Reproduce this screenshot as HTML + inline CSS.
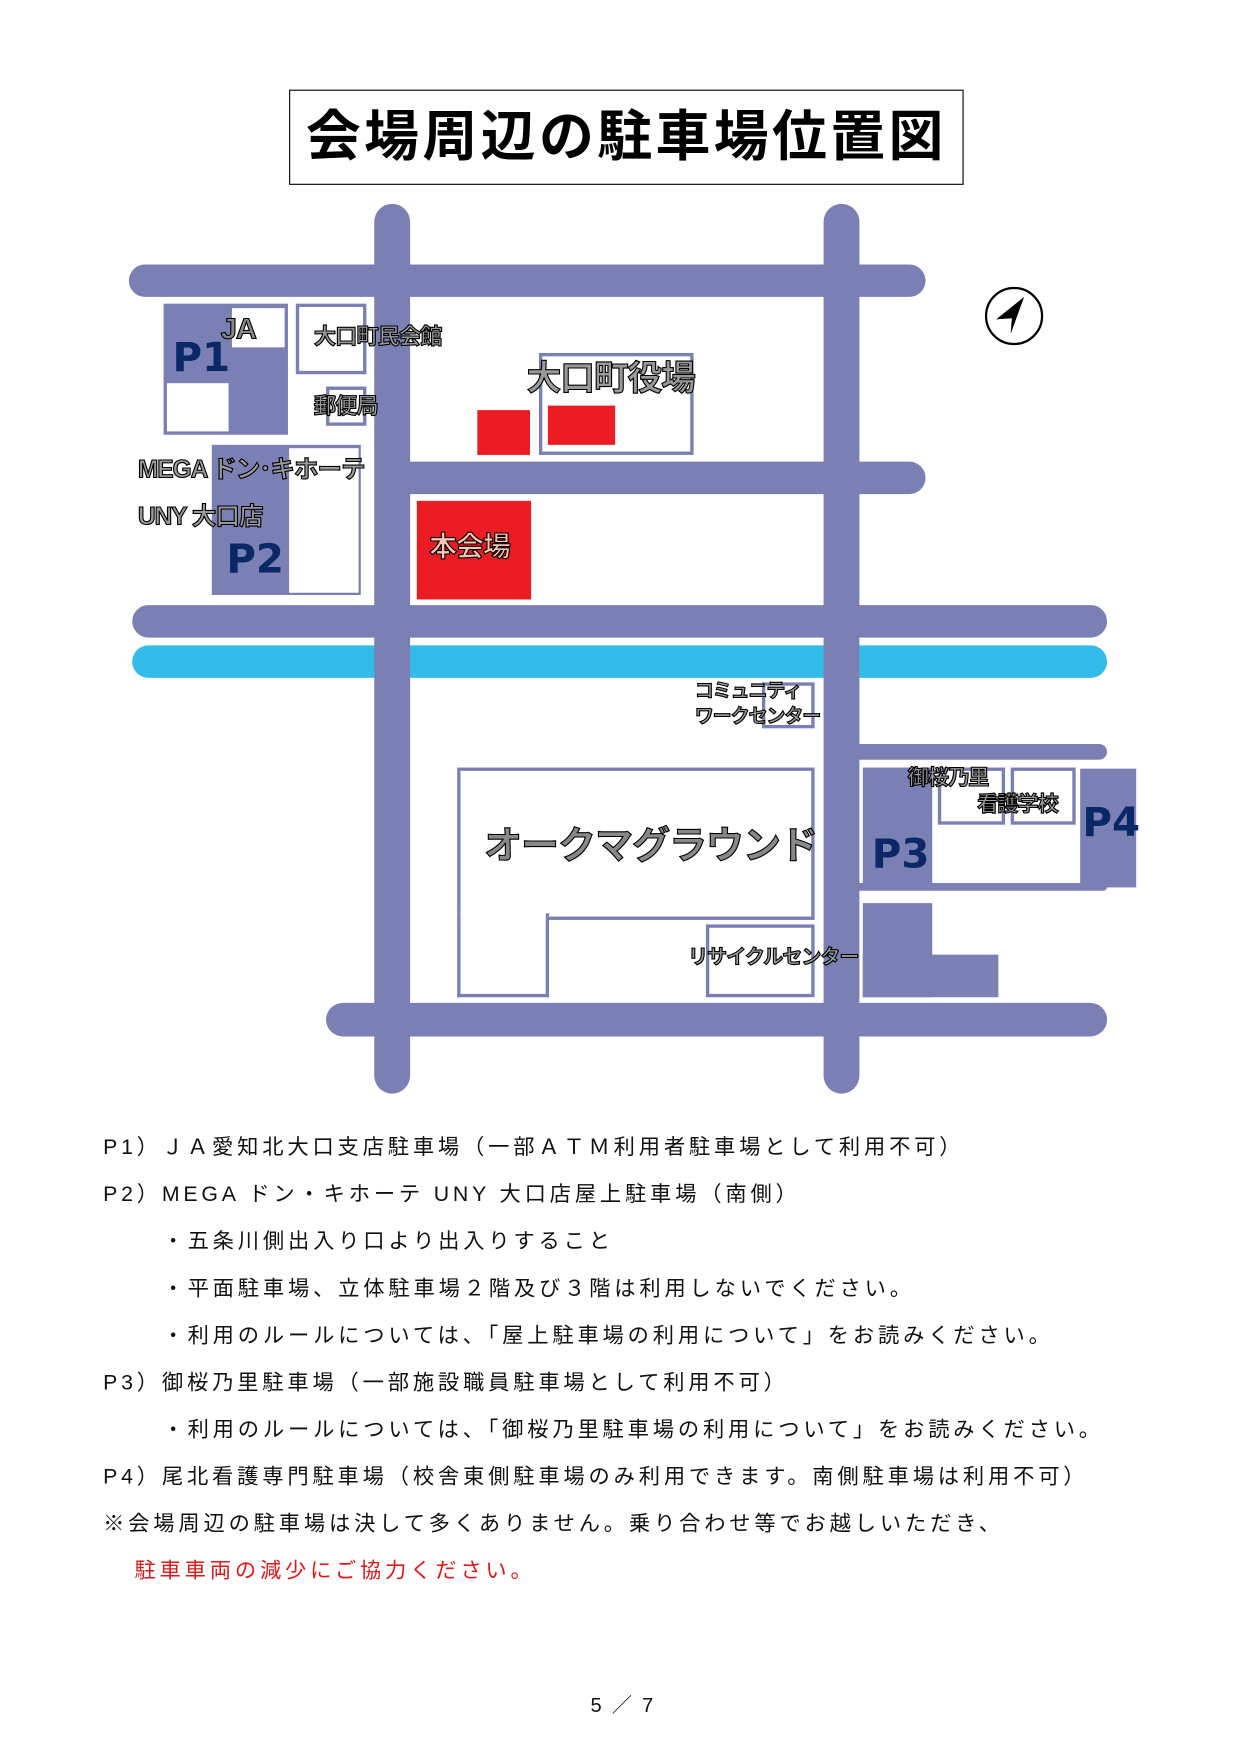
<!DOCTYPE html>
<html><head><meta charset="utf-8">
<style>
html,body{margin:0;padding:0;background:#fff;width:1241px;height:1755px;overflow:hidden}
#w{position:absolute;left:0;top:0;width:1100px;height:1556px;transform:scale(1.1205);transform-origin:0 0;font-family:"Liberation Sans","Noto Sans CJK JP",sans-serif}
.a{position:absolute}
.r{position:absolute;background:#7a80b4}
.rd{position:absolute;background:#7a80b4;border-radius:16px}
.w{position:absolute;background:#fff}
.bx{position:absolute;border:3px solid #7a80b4;background:#fff;box-sizing:border-box}
.red{position:absolute;background:#ec1c24}
.lb{position:absolute;font-weight:bold;color:#9a9a9a;-webkit-text-stroke:1px #000;white-space:nowrap;letter-spacing:-1px;line-height:1}
.p{position:absolute;font-weight:bold;color:#0a2766;line-height:1;font-size:36px;font-family:"DejaVu Sans","Liberation Sans",sans-serif}
.t{position:absolute;left:92px;font-size:19px;letter-spacing:3.4px;white-space:nowrap;line-height:1;color:#111}
</style></head><body><div id="w">
<div class="a" style="left:258px;top:80px;width:600px;height:83px;border:1px solid #000"></div>
<div class="a" style="left:258px;top:90px;width:602px;text-align:center;font-size:49px;font-weight:bold;letter-spacing:3px;line-height:1.2;font-family:'Noto Sans CJK JP',sans-serif">会場周辺の駐車場位置図</div>

<div class="rd" style="left:115px;top:236px;width:711px;height:29px"></div>
<div class="rd" style="left:350px;top:412px;width:476px;height:29px"></div>
<div class="rd" style="left:118px;top:540px;width:870px;height:29px"></div>
<div class="a" style="left:118px;top:576px;width:870px;height:29px;background:#33bbea;border-radius:15px"></div>
<div class="rd" style="left:750px;top:664px;width:238px;height:14px;border-radius:7px"></div>
<div class="rd" style="left:750px;top:788px;width:238px;height:7px;border-radius:4px"></div>
<div class="rd" style="left:291px;top:895px;width:697px;height:30px"></div>
<div class="rd" style="left:334px;top:182px;width:32px;height:794px"></div>
<div class="rd" style="left:735px;top:182px;width:32px;height:794px"></div>

<div class="r" style="left:146px;top:271px;width:111px;height:117px"></div>
<div class="w" style="left:207px;top:275px;width:47px;height:35px"></div>
<div class="w" style="left:149px;top:342px;width:55px;height:43px"></div>
<div class="bx" style="left:264px;top:271px;width:63px;height:63px"></div>
<div class="bx" style="left:291px;top:345px;width:36px;height:35px"></div>
<div class="bx" style="left:481px;top:315px;width:138px;height:91px"></div>
<div class="red" style="left:426px;top:366px;width:47px;height:40px"></div>
<div class="red" style="left:489px;top:362px;width:60px;height:35px"></div>
<div class="r" style="left:189px;top:397px;width:133px;height:134px"></div>
<div class="w" style="left:258px;top:400px;width:62px;height:129px"></div>
<div class="red" style="left:372px;top:447px;width:102px;height:88px"></div>

<div class="bx" style="left:680px;top:609px;width:47px;height:41px"></div>
<div class="bx" style="left:408px;top:685px;width:319px;height:136px"></div>
<div class="bx" style="left:408px;top:815px;width:82px;height:75px;border-top:none"></div>
<div class="w" style="left:411px;top:812px;width:76px;height:10px"></div>
<div class="bx" style="left:630px;top:825px;width:97px;height:65px"></div>

<div class="r" style="left:770px;top:685px;width:62px;height:107px"></div>
<div class="bx" style="left:837px;top:685px;width:60px;height:51px"></div>
<div class="bx" style="left:902px;top:685px;width:58px;height:51px"></div>
<div class="r" style="left:964px;top:686px;width:50px;height:106px"></div>
<div class="r" style="left:770px;top:806px;width:62px;height:84px"></div>
<div class="r" style="left:770px;top:852px;width:121px;height:38px"></div>

<svg class="a" style="left:877px;top:254px" width="56" height="56"><circle cx="28" cy="28" r="25" fill="#fff" stroke="#000" stroke-width="2"/><polygon points="37,11 25,44 26,30 12,31" fill="#000"/></svg>

<div class="p" style="left:154px;top:302px">P1</div>
<div class="lb" style="left:197px;top:280px;font-size:26px;color:#888">JA</div>
<div class="lb" style="left:280px;top:291px;font-size:20px">大口町民会館</div>
<div class="lb" style="left:280px;top:353px;font-size:20px">郵便局</div>
<div class="lb" style="left:470px;top:322px;font-size:31px">大口町役場</div>
<div class="lb" style="left:123px;top:408px;font-size:22px">MEGA ドン･キホーテ</div>
<div class="lb" style="left:123px;top:450px;font-size:22px">UNY 大口店</div>
<div class="p" style="left:202px;top:482px">P2</div>
<div class="lb" style="left:383px;top:476px;font-size:25px;color:#f6c8b4">本会場</div>
<div class="lb" style="left:620px;top:608px;font-size:17px">コミュニティ</div>
<div class="lb" style="left:620px;top:631px;font-size:17px">ワークセンター</div>
<div class="lb" style="left:432px;top:738px;font-size:34px;color:#888">オークマグラウンド</div>
<div class="lb" style="left:614px;top:845px;font-size:18px">リサイクルセンター</div>
<div class="lb" style="left:810px;top:685px;font-size:19px">御桜乃里</div>
<div class="lb" style="left:872px;top:709px;font-size:19px">看護学校</div>
<div class="p" style="left:778px;top:745px">P3</div>
<div class="p" style="left:966px;top:717px">P4</div>

<div class="t" style="top:1015px">P1）ＪＡ愛知北大口支店駐車場（一部ＡＴＭ利用者駐車場として利用不可）</div>
<div class="t" style="top:1057px">P2）MEGA ドン・キホーテ UNY 大口店屋上駐車場（南側）</div>
<div class="t" style="top:1099px;left:145px">・五条川側出入り口より出入りすること</div>
<div class="t" style="top:1141px;left:145px">・平面駐車場、立体駐車場２階及び３階は利用しないでください。</div>
<div class="t" style="top:1183px;left:145px">・利用のルールについては、「屋上駐車場の利用について」をお読みください。</div>
<div class="t" style="top:1225px">P3）御桜乃里駐車場（一部施設職員駐車場として利用不可）</div>
<div class="t" style="top:1267px;left:145px">・利用のルールについては、「御桜乃里駐車場の利用について」をお読みください。</div>
<div class="t" style="top:1309px">P4）尾北看護専門駐車場（校舎東側駐車場のみ利用できます。南側駐車場は利用不可）</div>
<div class="t" style="top:1351px">※会場周辺の駐車場は決して多くありません。乗り合わせ等でお越しいただき、</div>
<div class="t" style="top:1393px;left:120px;color:#e01818">駐車車両の減少にご協力ください。</div>
<div class="t" style="top:1513px;left:527px;font-size:18px;letter-spacing:2px">5 ／ 7</div>
</div></body></html>
